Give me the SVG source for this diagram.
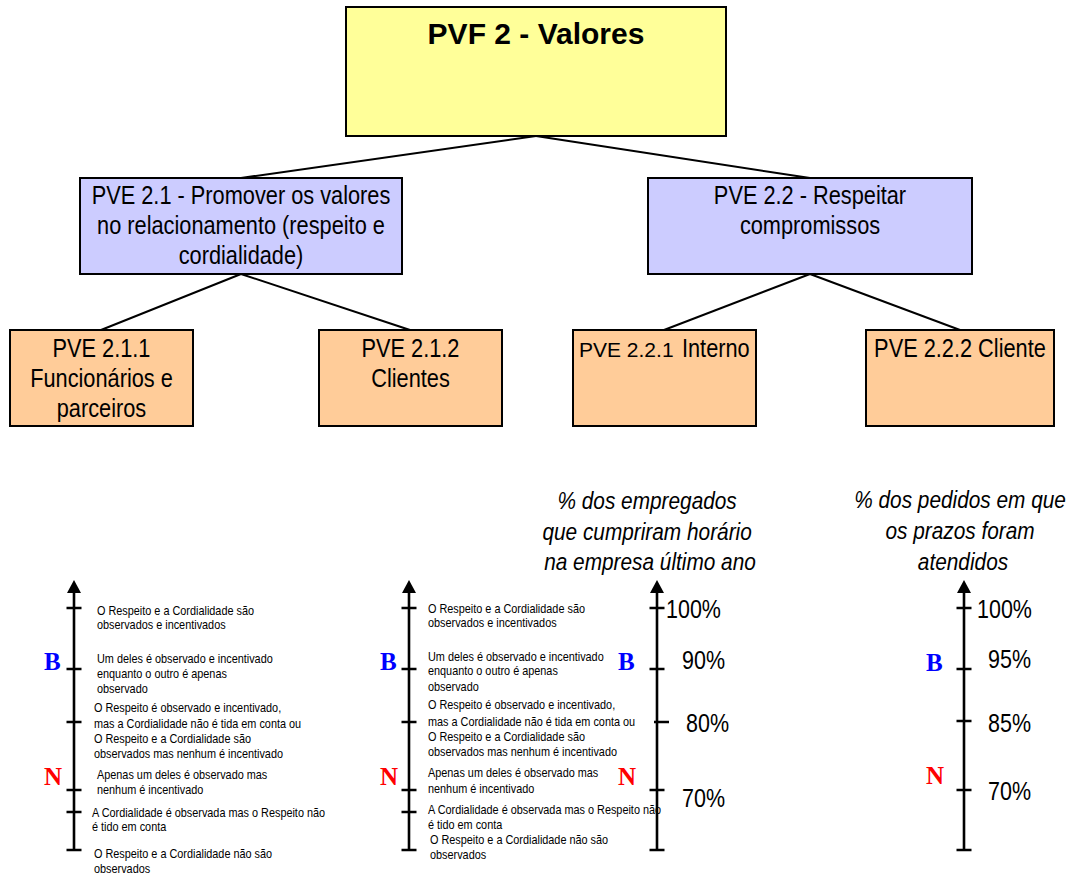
<svg xmlns="http://www.w3.org/2000/svg" width="1079" height="875" viewBox="0 0 1079 875">
  <style>
    .box { stroke: #000; stroke-width: 2; }
    .y { fill: #FFFF99; }
    .b { fill: #CCCCFF; }
    .o { fill: #FFCC99; }
    .link { stroke: #000; stroke-width: 2; fill: none; }
    .n { font-family: "Liberation Sans", Arial, sans-serif; fill: #000; }
    .w { font-family: "Liberation Sans", Arial, sans-serif; fill: #000; }
    .lbl { font-size: 25.6px; text-anchor: middle; }
    .title { font-size: 30px; font-weight: bold; text-anchor: middle; }
    .small { font-size: 12.8px; }
    .pct { font-size: 25.3px; }
    .head { font-size: 24.5px; font-style: italic; text-anchor: middle; }
    .axis { stroke: #000; stroke-width: 2.6; fill: none; }
    .mark { font-family: "Liberation Serif", "Times New Roman", serif; font-weight: bold; font-size: 25px; }
    .B { fill: #0000FF; }
    .N { fill: #FF0000; }
  </style>
  <defs>
    <marker id="tip" markerUnits="userSpaceOnUse" markerWidth="13" markerHeight="14" viewBox="0 0 13 14" refX="0" refY="7" orient="auto">
      <path d="M0,0 L13,7 L0,14 Z" fill="#000"/>
    </marker>
  </defs>

  <!-- tree connectors -->
  <g id="connectors">
    <line class="link" x1="536" y1="136" x2="241" y2="178"/>
    <line class="link" x1="536" y1="136" x2="810" y2="178"/>
    <line class="link" x1="241" y1="274" x2="101" y2="330"/>
    <line class="link" x1="241" y1="274" x2="410" y2="330"/>
    <line class="link" x1="810" y1="274" x2="664" y2="330"/>
    <line class="link" x1="810" y1="274" x2="960" y2="330"/>
  </g>

  <g id="pvf2">
    <rect class="box y" x="346" y="7" width="380" height="129"/>
    <text class="w title" x="536" y="44">PVF 2 - Valores</text>
  </g>

  <!-- narrow lettering: text groups are squeezed horizontally to 85%, so x values are divided by 0.85 -->
  <g id="pve21">
    <rect class="box b" x="80" y="178" width="322" height="96"/>
    <g transform="scale(0.85 1)">
      <text class="n lbl" x="283.53" y="204">PVE 2.1 - Promover os valores</text>
      <text class="n lbl" x="283.53" y="234">no relacionamento (respeito e</text>
      <text class="n lbl" x="283.53" y="264">cordialidade)</text>
    </g>
  </g>

  <g id="pve22">
    <rect class="box b" x="648" y="178" width="324" height="96"/>
    <g transform="scale(0.85 1)">
      <text class="n lbl" x="952.94" y="204">PVE 2.2 - Respeitar</text>
      <text class="n lbl" x="952.94" y="234">compromissos</text>
    </g>
  </g>

  <g id="pve211">
    <rect class="box o" x="10" y="330" width="183" height="96"/>
    <g transform="scale(0.85 1)">
      <text class="n lbl" x="119.41" y="357">PVE 2.1.1</text>
      <text class="n lbl" x="119.41" y="387">Funcionários e</text>
      <text class="n lbl" x="119.41" y="417">parceiros</text>
    </g>
  </g>

  <g id="pve212">
    <rect class="box o" x="319" y="330" width="183" height="96"/>
    <g transform="scale(0.85 1)">
      <text class="n lbl" x="482.94" y="357">PVE 2.1.2</text>
      <text class="n lbl" x="482.94" y="387">Clientes</text>
    </g>
  </g>

  <g id="pve221">
    <rect class="box o" x="573" y="330" width="183" height="96"/>
    <text class="w" x="579" y="357" font-size="21px">PVE 2.2.1</text>
    <g transform="scale(0.85 1)">
      <text class="n" x="802.35" y="357" font-size="25.6px">Interno</text>
    </g>
  </g>

  <g id="pve222">
    <rect class="box o" x="866" y="330" width="188" height="96"/>
    <g transform="scale(0.85 1)">
      <text class="n lbl" x="1129.41" y="357">PVE 2.2.2 Cliente</text>
    </g>
  </g>

  <!-- qualitative scale: PVE 2.1.1 -->
  <g id="scale-funcionarios">
    <line class="axis" x1="74" y1="851" x2="74" y2="593" marker-end="url(#tip)"/>
    <path class="axis" d="M66.5,608h15M66.5,669h15M66.5,722h15M66.5,790h15M66.5,812h15M66.5,850h15"/>
    <text class="mark B" x="44" y="670">B</text>
    <text class="mark N" x="44" y="785">N</text>
    <g transform="scale(0.85 1)">
      <text class="n small">
        <tspan x="114.12" y="615">O Respeito e a Cordialidade são</tspan>
        <tspan x="114.12" y="629">observados e incentivados</tspan>
        <tspan x="114.12" y="663">Um deles é observado e incentivado</tspan>
        <tspan x="114.12" y="678">enquanto o outro é apenas</tspan>
        <tspan x="114.12" y="693">observado</tspan>
        <tspan x="110.59" y="712">O Respeito é observado e incentivado,</tspan>
        <tspan x="110.59" y="728">mas a Cordialidade não é tida em conta ou</tspan>
        <tspan x="110.59" y="743">O Respeito e a Cordialidade são</tspan>
        <tspan x="110.59" y="758">observados mas nenhum é incentivado</tspan>
        <tspan x="114.12" y="779">Apenas um deles é observado mas</tspan>
        <tspan x="114.12" y="794">nenhum é incentivado</tspan>
        <tspan x="108.24" y="817">A Cordialidade é observada mas o Respeito não</tspan>
        <tspan x="108.24" y="831">é tido em conta</tspan>
        <tspan x="110.59" y="858">O Respeito e a Cordialidade não são</tspan>
        <tspan x="110.59" y="873">observados</tspan>
      </text>
    </g>
  </g>

  <!-- qualitative scale: PVE 2.1.2 -->
  <g id="scale-clientes">
    <line class="axis" x1="409" y1="851" x2="409" y2="593" marker-end="url(#tip)"/>
    <path class="axis" d="M401.5,608h15M401.5,669h15M401.5,722h15M401.5,790h15M401.5,812h15M401.5,850h15"/>
    <text class="mark B" x="380" y="670">B</text>
    <text class="mark N" x="380" y="785">N</text>
    <g transform="scale(0.85 1)">
      <text class="n small">
        <tspan x="503.53" y="613">O Respeito e a Cordialidade são</tspan>
        <tspan x="503.53" y="627">observados e incentivados</tspan>
        <tspan x="503.53" y="661">Um deles é observado e incentivado</tspan>
        <tspan x="503.53" y="675">enquanto o outro é apenas</tspan>
        <tspan x="503.53" y="691">observado</tspan>
        <tspan x="503.53" y="709">O Respeito é observado e incentivado,</tspan>
        <tspan x="503.53" y="726">mas a Cordialidade não é tida em conta ou</tspan>
        <tspan x="503.53" y="741">O Respeito e a Cordialidade são</tspan>
        <tspan x="503.53" y="756">observados mas nenhum é incentivado</tspan>
        <tspan x="503.53" y="777">Apenas um deles é observado mas</tspan>
        <tspan x="503.53" y="793">nenhum é incentivado</tspan>
        <tspan x="503.53" y="814">A Cordialidade é observada mas o Respeito não</tspan>
        <tspan x="503.53" y="829">é tido em conta</tspan>
        <tspan x="505.88" y="844">O Respeito e a Cordialidade não são</tspan>
        <tspan x="505.88" y="859">observados</tspan>
      </text>
    </g>
  </g>

  <!-- quantitative scale: PVE 2.2.1 -->
  <g id="scale-interno">
    <g transform="scale(0.85 1)">
      <text class="n head">
        <tspan x="764.71" y="509">% dos empregados</tspan>
        <tspan x="764.71" y="540">que cumpriram horário</tspan>
        <tspan x="764.71" y="570">na empresa último ano</tspan>
      </text>
      <text class="n pct" x="783.53" y="618">100%</text>
      <text class="n pct" x="802.35" y="669">90%</text>
      <text class="n pct" x="807.06" y="732">80%</text>
      <text class="n pct" x="802.35" y="807">70%</text>
    </g>
    <line class="axis" x1="657" y1="851" x2="657" y2="593" marker-end="url(#tip)"/>
    <path class="axis" d="M649.5,608h15M649.5,669h15M654,722h15M649.5,790h15M649.5,850h15"/>
    <text class="mark B" x="618" y="670">B</text>
    <text class="mark N" x="618" y="785">N</text>
  </g>

  <!-- quantitative scale: PVE 2.2.2 -->
  <g id="scale-cliente">
    <g transform="scale(0.85 1)">
      <text class="n head">
        <tspan x="1132.94" y="508">% dos pedidos em que</tspan>
        <tspan x="1132.94" y="539">os prazos foram</tspan>
        <tspan x="1132.94" y="570">atendidos</tspan>
      </text>
      <text class="n pct" x="1149.41" y="618">100%</text>
      <text class="n pct" x="1162.35" y="668">95%</text>
      <text class="n pct" x="1162.35" y="732">85%</text>
      <text class="n pct" x="1162.35" y="800">70%</text>
    </g>
    <line class="axis" x1="964" y1="851" x2="964" y2="593" marker-end="url(#tip)"/>
    <path class="axis" d="M956.5,608h15M956.5,669h15M956.5,721h15M956.5,790h15M956.5,850h15"/>
    <text class="mark B" x="926" y="671">B</text>
    <text class="mark N" x="926" y="784">N</text>
  </g>
</svg>
